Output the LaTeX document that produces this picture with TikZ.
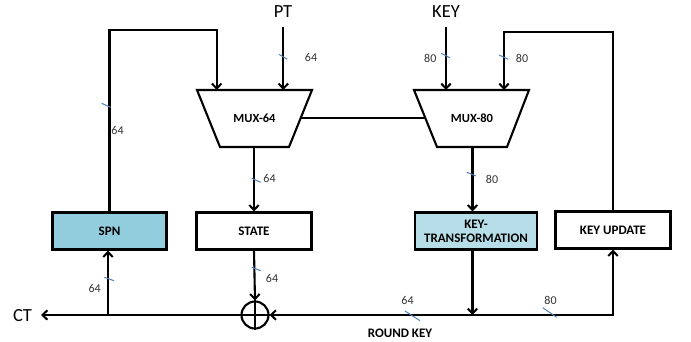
\documentclass[tikz,border=0pt]{standalone}
\usepackage{fontspec}
\setmainfont{Carlito}
\usetikzlibrary{arrows.meta}
\definecolor{spnblue}{RGB}{146,205,221}
\definecolor{ktblue}{RGB}{183,222,232}
\definecolor{slashblue}{RGB}{79,129,189}
\definecolor{numgray}{RGB}{50,50,50}
\begin{document}
\begin{tikzpicture}[x=1pt,y=-1pt,
  wire/.style={line width=2.1pt,line join=miter},
  arr/.style={wire,-{Straight Barb[length=5pt,width=9.5pt,line width=2pt]}},
  blk/.style={draw,line width=2.1pt,minimum height=37pt,inner sep=0pt,align=center,
    font=\bfseries\fontsize{13}{14}\selectfont},
  big/.style={inner sep=0pt,font=\fontsize{18.5}{20}\selectfont},
  num/.style={inner sep=0pt,text=numgray,font=\fontsize{12}{13}\selectfont},
  slash/.style={draw=slashblue,line width=1pt}]
\useasboundingbox (0,0) rectangle (691,341);

% multiplexers
\draw[wire] (197,90) -- (312,90) -- (289,147) -- (220,147) -- cycle;
\node[inner sep=0pt,font=\bfseries\fontsize{12.5}{13}\selectfont] (mux64) at (254.5,118) {MUX-64};
\draw[wire] (414,90) -- (529,90) -- (507,147) -- (437,147) -- cycle;
\node[inner sep=0pt,font=\bfseries\fontsize{12.5}{13}\selectfont] (mux80) at (472,118) {MUX-80};
\coordinate (m64a) at (216.7,90);
\coordinate (m64b) at (283.3,90);
\coordinate (m64r) at (300.7,118);
\coordinate (m64o) at (254,147);
\coordinate (m80a) at (446,90);
\coordinate (m80b) at (504,90);
\coordinate (m80l) at (425.3,118);
\coordinate (m80o) at (472.5,147);

% blocks
\node[blk,fill=spnblue,minimum width=114pt] (spn) at (109.5,231) {SPN};
\node[blk,minimum width=115pt] (state) at (254,231) {STATE};
\node[blk,fill=ktblue,minimum width=122pt] (ktr) at (476,231) {KEY-\\TRANSFORMATION};
\node[blk,minimum width=115pt] (kup) at (613,230) {KEY UPDATE};
\node[draw,circle,line width=2.1pt,minimum size=27pt,inner sep=0pt] (xor) at (255,315) {};
\draw[wire] (xor.north) -- (xor.south) (xor.west) -- (xor.east);

% texts
\node[big] (pt) at (283,12) {PT};
\node[big] (key) at (446,12) {KEY};
\node[big] (ct) at (22.5,316) {CT};
\node[inner sep=0pt,font=\bfseries\fontsize{13}{14}\selectfont] (rk) at (400,333) {ROUND KEY};

% coordinates
\coordinate (ptin) at (283.3,27);
\coordinate (keyin) at (446,27);
\coordinate (fb1) at (216.7,30);
\coordinate (fb2) at (504,32);
\coordinate (ctend) at (41,315);
\coordinate (ktjoin) at (472.5,315);
\coordinate (spnjoin) at (108,315);

% connectors
\draw[arr] (ptin) -- (m64b);
\draw[arr] (keyin) -- (m80a);
\draw[arr] (spn.north) |- (fb1) -- (m64a);
\draw[arr] (kup.north) |- (fb2) -- (m80b);
\draw[wire] (m64r) -- (m80l);
\draw[arr] (m64o) -- (m64o |- state.north);
\draw[arr] (m80o) -- (m80o |- ktr.north);
\draw[arr] (state.south) -- (xor.north);
\draw[arr] (m80o |- ktr.south) -- (ktjoin);
\draw[arr] (ktjoin) -- (xor.east);
\draw[arr] (ktjoin) -| (kup.south);
\draw[arr] (xor.west) -- (ctend);
\draw[arr] (spnjoin) -- (spnjoin |- spn.south);

% bus-width slashes
\draw[slash] (279,54.3) -- (287.3,59.3);
\draw[slash] (441,53.3) -- (450,57.7);
\draw[slash] (499,55) -- (508.3,59.3);
\draw[slash] (101.7,103.3) -- (110.7,107.3);
\draw[slash] (251.7,178.3) -- (260.7,182.3);
\draw[slash] (466.7,172.3) -- (476,176);
\draw[slash] (251.7,267.3) -- (260.7,270.7);
\draw[slash] (104.3,277.3) -- (114,280.7);
\draw[slash] (405,311) -- (420,320.7);
\draw[slash] (542.7,307.7) -- (556.7,317.3);

% bus-width numbers
\node[num] (n1) at (311,57.5) {64};
\node[num] (n2) at (430.3,58) {80};
\node[num] (n3) at (522,58.5) {80};
\node[num] (n4) at (117.5,130.5) {64};
\node[num] (n5) at (269.5,178.5) {64};
\node[num] (n6) at (492,179) {80};
\node[num] (n7) at (272,278) {64};
\node[num] (n8) at (94.7,288) {64};
\node[num] (n9) at (407.5,300) {64};
\node[num] (n10) at (550.5,300) {80};
\end{tikzpicture}
\end{document}
